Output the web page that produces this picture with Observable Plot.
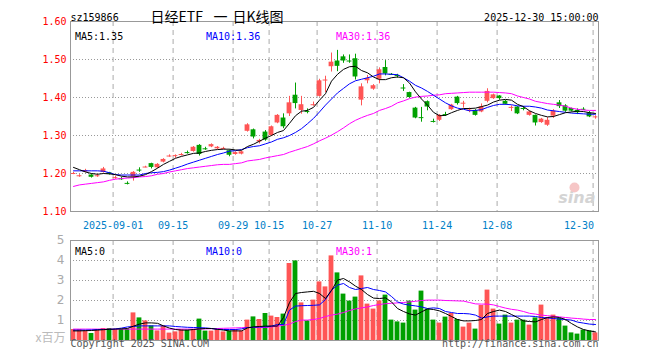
<!DOCTYPE html>
<html>
<head>
<meta charset="utf-8">
<script src="https://cdn.jsdelivr.net/npm/d3@7"></script>
<script src="https://cdn.jsdelivr.net/npm/@observablehq/plot@0.6"></script>
<style>
  html, body { margin: 0; padding: 0; background: #fff; }
  #chart { position: relative; width: 660px; height: 360px; background: #fff; }
  #topPanel, #bottomPanel { position: absolute; left: 0; }
  #topPanel { top: 0; }
  #bottomPanel { top: 235px; }
</style>
</head>
<body>
<div id="chart"><div id="topPanel"></div><div id="bottomPanel"></div></div>
<script>
const dates = [
  "2025-08-21","2025-08-22","2025-08-25","2025-08-26","2025-08-27","2025-08-28","2025-08-29",
  "2025-09-01","2025-09-02","2025-09-03","2025-09-04","2025-09-05","2025-09-08","2025-09-09","2025-09-10","2025-09-11","2025-09-12",
  "2025-09-15","2025-09-16","2025-09-17","2025-09-18","2025-09-19","2025-09-22","2025-09-23","2025-09-24","2025-09-25","2025-09-26",
  "2025-09-29","2025-09-30","2025-10-09","2025-10-10","2025-10-13","2025-10-14","2025-10-15","2025-10-16","2025-10-17",
  "2025-10-20","2025-10-21","2025-10-22","2025-10-23","2025-10-24","2025-10-27","2025-10-28","2025-10-29","2025-10-30","2025-10-31",
  "2025-11-03","2025-11-04","2025-11-05","2025-11-06","2025-11-07","2025-11-10","2025-11-11","2025-11-12","2025-11-13","2025-11-14",
  "2025-11-17","2025-11-18","2025-11-19","2025-11-20","2025-11-21","2025-11-24","2025-11-25","2025-11-26","2025-11-27","2025-11-28",
  "2025-12-01","2025-12-02","2025-12-03","2025-12-04","2025-12-05","2025-12-08","2025-12-09","2025-12-10","2025-12-11","2025-12-12",
  "2025-12-15","2025-12-16","2025-12-17","2025-12-18","2025-12-19","2025-12-22","2025-12-23","2025-12-24","2025-12-25","2025-12-26",
  "2025-12-29","2025-12-30"
];
const open = [1.199,1.193,1.204,1.196,1.193,1.203,1.202,1.188,1.187,1.175,1.191,1.210,1.216,1.226,1.215,1.230,1.245,1.246,1.249,1.256,
  1.258,1.274,1.266,1.270,1.265,1.265,1.260,1.250,1.251,1.311,1.315,1.283,1.309,1.300,1.333,1.346,1.357,1.406,1.366,1.364,
  1.380,1.403,1.444,1.481,1.496,1.507,1.497,1.502,1.393,1.444,1.422,1.448,1.479,1.462,1.459,1.426,1.413,1.372,1.348,1.389,
  1.338,1.340,1.356,1.368,1.401,1.384,1.366,1.366,1.362,1.390,1.397,1.404,1.390,1.373,1.375,1.372,1.353,1.353,1.334,1.327,
  1.351,1.386,1.378,1.371,1.366,1.370,1.359,1.348];
const close = [1.200,1.194,1.208,1.190,1.194,1.212,1.198,1.189,1.186,1.174,1.203,1.209,1.217,1.216,1.224,1.237,1.246,1.247,1.250,1.255,
  1.269,1.250,1.265,1.276,1.269,1.266,1.248,1.255,1.257,1.328,1.296,1.287,1.288,1.323,1.353,1.323,1.386,1.384,1.381,1.363,
  1.381,1.444,1.446,1.493,1.482,1.496,1.496,1.454,1.428,1.450,1.431,1.473,1.462,1.461,1.458,1.425,1.400,1.346,1.347,1.375,
  1.337,1.353,1.355,1.380,1.384,1.385,1.367,1.353,1.375,1.416,1.407,1.397,1.382,1.374,1.357,1.371,1.362,1.333,1.343,1.340,
  1.364,1.376,1.364,1.364,1.360,1.369,1.349,1.349];
const high = [1.203,1.197,1.211,1.197,1.198,1.216,1.203,1.193,1.190,1.178,1.205,1.215,1.219,1.227,1.226,1.239,1.249,1.249,1.253,1.259,
  1.271,1.276,1.269,1.278,1.271,1.269,1.262,1.257,1.258,1.331,1.317,1.290,1.313,1.325,1.355,1.357,1.403,1.438,1.403,1.370,
  1.388,1.448,1.456,1.517,1.524,1.512,1.512,1.514,1.436,1.458,1.434,1.478,1.497,1.463,1.461,1.434,1.414,1.374,1.374,1.391,
  1.343,1.355,1.361,1.382,1.403,1.390,1.372,1.368,1.383,1.423,1.409,1.405,1.392,1.378,1.376,1.376,1.364,1.354,1.345,1.347,
  1.368,1.392,1.381,1.372,1.370,1.373,1.363,1.352];
const low = [1.197,1.190,1.202,1.188,1.190,1.201,1.196,1.185,1.182,1.170,1.180,1.203,1.215,1.212,1.213,1.228,1.243,1.240,1.246,1.251,
  1.256,1.246,1.261,1.268,1.263,1.263,1.244,1.248,1.249,1.309,1.291,1.278,1.285,1.297,1.331,1.318,1.350,1.370,1.356,1.357,
  1.377,1.401,1.413,1.467,1.468,1.490,1.490,1.446,1.378,1.436,1.419,1.436,1.457,1.458,1.451,1.416,1.398,1.344,1.335,1.365,
  1.333,1.337,1.350,1.366,1.380,1.372,1.360,1.351,1.360,1.386,1.395,1.393,1.380,1.363,1.355,1.365,1.351,1.325,1.332,1.324,
  1.345,1.371,1.361,1.362,1.355,1.366,1.347,1.343];
const volume = [0.55,0.55,0.48,0.35,0.55,0.60,0.60,0.55,0.57,0.55,1.38,1.13,0.98,0.73,0.48,0.73,0.37,0.43,0.55,0.52,
  0.55,1.07,0.47,0.47,0.55,0.43,0.47,0.55,0.47,1.02,1.18,1.05,1.35,1.22,1.15,1.32,3.85,3.98,1.88,0.98,
  2.02,2.93,2.68,4.23,3.38,2.32,1.97,2.17,3.23,1.82,1.57,1.98,2.27,1.02,0.93,0.87,1.97,1.52,2.47,1.57,
  1.02,0.87,1.17,1.35,1.05,0.67,0.87,0.57,1.75,2.52,1.57,0.82,1.27,0.87,1.02,1.02,0.77,1.13,1.77,1.15,
  1.27,1.10,0.72,0.38,0.32,0.52,0.48,0.38];
const ma5 = [1.216,1.210,1.204,1.200,1.198,1.200,1.199,1.197,1.193,1.191,1.191,1.193,1.197,1.205,1.214,1.224,1.232,1.240,1.245,1.249,
  1.253,1.254,1.258,1.261,1.263,1.264,1.264,1.262,1.261,1.271,1.277,1.285,1.293,1.300,1.308,1.313,1.332,1.352,1.364,1.366,
  1.374,1.393,1.410,1.443,1.461,1.474,1.481,1.482,1.471,1.465,1.454,1.447,1.447,1.452,1.454,1.452,1.438,1.415,1.396,1.380,
  1.361,1.352,1.353,1.360,1.366,1.371,1.371,1.372,1.376,1.380,1.388,1.393,1.395,1.393,1.382,1.376,1.365,1.358,1.353,1.349,
  1.350,1.355,1.360,1.362,1.364,1.363,1.360,1.358];
const ma10 = [1.207,1.207,1.207,1.207,1.207,1.206,1.202,1.197,1.196,1.196,1.196,1.196,1.200,1.202,1.203,1.205,1.209,1.214,1.219,1.225,
  1.230,1.235,1.240,1.245,1.250,1.254,1.259,1.260,1.263,1.268,1.271,1.273,1.278,1.283,1.290,1.294,1.300,1.308,1.318,1.331,
  1.345,1.362,1.380,1.396,1.412,1.424,1.436,1.444,1.448,1.452,1.456,1.462,1.462,1.461,1.460,1.452,1.443,1.432,1.425,1.416,
  1.406,1.396,1.386,1.378,1.372,1.369,1.365,1.366,1.368,1.374,1.379,1.382,1.382,1.381,1.378,1.377,1.377,1.375,1.372,1.367,
  1.365,1.363,1.361,1.359,1.358,1.357,1.356,1.356];
const ma30 = [1.166,1.170,1.172,1.174,1.176,1.178,1.182,1.185,1.187,1.188,1.189,1.191,1.192,1.194,1.198,1.200,1.204,1.207,1.210,1.213,
  1.215,1.217,1.219,1.221,1.223,1.224,1.224,1.226,1.228,1.233,1.235,1.237,1.241,1.244,1.247,1.250,1.256,1.261,1.266,1.271,
  1.278,1.286,1.293,1.301,1.310,1.320,1.331,1.340,1.347,1.353,1.358,1.366,1.371,1.377,1.386,1.391,1.397,1.401,1.403,1.404,
  1.406,1.407,1.410,1.411,1.412,1.413,1.414,1.414,1.414,1.414,1.414,1.413,1.412,1.410,1.404,1.400,1.396,1.390,1.387,1.384,
  1.382,1.380,1.377,1.372,1.369,1.367,1.366,1.366];
const vma5 = [0.48,0.48,0.49,0.50,0.52,0.54,0.56,0.57,0.58,0.60,0.72,0.82,0.88,0.88,0.86,0.73,0.62,0.55,0.52,0.52,
  0.55,0.58,0.60,0.60,0.56,0.52,0.48,0.48,0.48,0.63,0.68,0.70,0.72,0.72,0.72,1.15,1.90,2.35,2.40,2.43,
  2.46,2.35,2.10,2.50,3.02,3.10,2.93,2.72,2.55,2.30,2.12,2.10,2.13,1.93,1.60,1.45,1.33,1.27,1.43,1.58,
  1.55,1.48,1.35,1.20,1.05,0.98,0.98,1.00,1.05,1.35,1.45,1.52,1.45,1.30,1.15,0.98,0.95,0.93,1.05,1.15,
  1.18,1.15,1.05,0.85,0.68,0.55,0.48,0.43];
const vma10 = [0.52,0.52,0.52,0.53,0.55,0.55,0.55,0.58,0.62,0.68,0.70,0.73,0.73,0.73,0.73,0.73,0.73,0.70,0.68,0.66,
  0.65,0.64,0.63,0.60,0.56,0.55,0.55,0.55,0.58,0.65,0.66,0.68,0.68,0.72,0.80,0.80,1.52,1.72,1.74,1.75,
  1.76,1.78,2.05,2.52,2.77,2.85,2.65,2.55,2.60,2.65,2.55,2.50,2.43,2.20,1.93,1.82,1.77,1.73,1.68,1.60,
  1.63,1.60,1.45,1.40,1.35,1.35,1.33,1.27,1.12,1.18,1.22,1.22,1.22,1.22,1.22,1.22,1.22,1.20,1.15,1.13,
  1.10,1.07,1.05,1.02,0.92,0.87,0.82,0.80];
const vma30 = [0.57,0.57,0.57,0.57,0.57,0.57,0.57,0.57,0.57,0.57,0.57,0.57,0.57,0.57,0.57,0.57,0.57,0.57,0.57,0.57,
  0.57,0.57,0.58,0.59,0.60,0.61,0.62,0.63,0.64,0.65,0.65,0.65,0.65,0.68,0.72,0.76,0.82,0.95,1.02,1.02,
  1.05,1.10,1.20,1.27,1.32,1.40,1.50,1.58,1.63,1.68,1.75,1.80,1.84,1.86,1.88,1.90,1.93,1.96,2.00,2.02,
  2.02,2.02,2.00,1.99,1.98,1.97,1.90,1.83,1.82,1.82,1.78,1.70,1.62,1.56,1.52,1.45,1.36,1.32,1.27,1.24,
  1.21,1.18,1.15,1.12,1.10,1.07,1.05,1.05];
const tickIdx = [7,17,27,33,41,51,61,71,87];
const tickLabels = ["2025-09-01","09-15","09-29","10-15","10-27","11-10","11-24","12-08","12-30"];
const priceTicks = [1.10,1.20,1.30,1.40,1.50,1.60];
const priceGrid = [1.20,1.30,1.40,1.50];
const volTicks = [1,2,3,4,5];
const volGrid = [1,2,3,4];
const titleParts = ["日经ETF", "一", "日K线图"];
const codeText = "sz159866";
const timeText = "2025-12-30 15:00:00";
const priceLegend = ["MA5:1.35","MA10:1.36","MA30:1.36"];
const volLegend = ["MA5:0","MA10:0","MA30:1"];

const RED = "#ff5555", GREEN = "#00a000";
const MONO = "DejaVu Sans Mono";
const CJK = "Noto Sans CJK SC";
const rows = dates.map((d, i) => ({
  i, d, o: open[i], c: close[i], h: high[i], l: low[i], v: volume[i],
  m5: ma5[i], m10: ma10[i], m30: ma30[i], vm5: vma5[i], vm10: vma10[i], vm30: vma30[i],
  col: close[i] >= open[i] ? RED : GREEN
}));
const isCross = d => Math.abs(d.c - d.o) < 0.0025;
const xDomain = [-0.5, dates.length - 0.5];
const gridX = tickIdx.map(i => i - 0.4);
const legendDx = [4.5, 135.5, 265.5];
const legendColors = ["#000", "#0000ff", "#ff00ff"];
const titleDx = [80, 143, 162];
const baseStyle = {fontFamily: MONO, fontSize: "10px", background: "transparent", overflow: "visible"};

const topChart = Plot.plot({
  width: 660, height: 235,
  marginLeft: 70, marginRight: 62, marginTop: 21, marginBottom: 24,
  x: {domain: xDomain, axis: null},
  y: {domain: [1.10, 1.60], axis: null},
  color: {type: "identity"},
  style: baseStyle,
  marks: [
    Plot.ruleY(priceGrid, {stroke: "#999", strokeDasharray: "1,2"}),
    Plot.ruleX(gridX, {stroke: "#aaa", strokeDasharray: "5,4"}),
    Plot.text(["sina"], {frameAnchor: "bottom-right", dx: -3, dy: -9, text: d => d, fill: "#d4d4d4",
      fontFamily: "DejaVu Sans", fontWeight: "bold", fontStyle: "italic", fontSize: 16, textAnchor: "end"}),
    Plot.dot([0], {frameAnchor: "bottom-right", dx: -24, dy: -24, r: 5, fill: "#f6c6c6"}),
    Plot.ruleX(rows, {x: "i", y1: "l", y2: "h", stroke: "col"}),
    Plot.rect(rows.filter(d => !isCross(d)), {x1: d => d.i - 0.4, x2: d => d.i + 0.4, y1: "o", y2: "c", fill: "col"}),
    Plot.ruleY(rows.filter(isCross), {y: "c", x1: d => d.i - 0.4, x2: d => d.i + 0.4, stroke: "col"}),
    Plot.line(rows, {x: "i", y: "m30", stroke: "#ff00ff", strokeWidth: 1}),
    Plot.line(rows, {x: "i", y: "m10", stroke: "#0000ff", strokeWidth: 1}),
    Plot.line(rows, {x: "i", y: "m5", stroke: "#000", strokeWidth: 1}),
    Plot.frame({stroke: "#999"}),
    Plot.axisY(priceTicks, {tickSize: 0, tickPadding: 4, tickFormat: d3.format(".2f"), fill: "#ff0000",
      fontFamily: MONO, fontSize: 10}),
    Plot.text(tickIdx.slice(0, -1), {x: d => d - 0.4, frameAnchor: "bottom", dy: 17,
      text: (d, k) => tickLabels[k], fill: "#0080c8", fontFamily: MONO, fontSize: 10}),
    Plot.text(tickIdx.slice(-1), {x: d => d - 0.4, frameAnchor: "bottom", dy: 17, dx: 1, textAnchor: "end",
      text: () => tickLabels[tickLabels.length - 1], fill: "#0080c8", fontFamily: MONO, fontSize: 10}),
    Plot.text([codeText], {frameAnchor: "top-left", dy: -8, text: d => d, textAnchor: "start", fill: "#000", fontFamily: MONO, fontSize: 10}),
    ...titleParts.map((t, k) => Plot.text([t], {frameAnchor: "top-left", dx: titleDx[k], dy: -9, text: d => d,
      textAnchor: "start", fill: "#000", fontFamily: CJK, fontSize: 14})),
    Plot.text([timeText], {frameAnchor: "top-right", dy: -8, text: d => d, textAnchor: "end", fill: "#000", fontFamily: MONO, fontSize: 10}),
    ...priceLegend.map((t, k) => Plot.text([t], {frameAnchor: "top-left", dx: legendDx[k], dy: 11, text: d => d,
      textAnchor: "start", fill: legendColors[k], fontFamily: MONO, fontSize: 10}))
  ]
});
document.getElementById("topPanel").appendChild(topChart);

const bottomChart = Plot.plot({
  width: 660, height: 125,
  marginLeft: 70, marginRight: 62, marginTop: 5, marginBottom: 20,
  x: {domain: xDomain, axis: null},
  y: {domain: [0, 5], axis: null},
  color: {type: "identity"},
  style: baseStyle,
  marks: [
    Plot.ruleY(volGrid, {stroke: "#999", strokeDasharray: "1,2"}),
    Plot.ruleX(gridX, {stroke: "#aaa", strokeDasharray: "5,4"}),
    Plot.rect(rows, {x1: d => d.i - 0.4, x2: d => d.i + 0.4, y1: 0, y2: "v", fill: "col"}),
    Plot.line(rows, {x: "i", y: "vm30", stroke: "#ff00ff", strokeWidth: 1}),
    Plot.line(rows, {x: "i", y: "vm10", stroke: "#0000ff", strokeWidth: 1}),
    Plot.line(rows, {x: "i", y: "vm5", stroke: "#000", strokeWidth: 1}),
    Plot.frame({stroke: "#999"}),
    Plot.axisY(volTicks, {tickSize: 0, tickPadding: 6, tickFormat: d3.format("d"), fill: "#aaa",
      fontFamily: "DejaVu Sans", fontSize: 12}),
    Plot.text(["x百万"], {frameAnchor: "bottom-left", dx: -5, dy: 1, text: d => d, textAnchor: "end", fill: "#bbb",
      fontFamily: CJK, fontSize: 12}),
    Plot.text(["Copyright 2025 SINA.COM"], {frameAnchor: "bottom-left", dy: 6, text: d => d, textAnchor: "start",
      fill: "#555", fontFamily: MONO, fontSize: 10}),
    Plot.text(["http://finance.sina.com.cn"], {frameAnchor: "bottom-right", dy: 6, text: d => d, textAnchor: "end",
      fill: "#555", fontFamily: MONO, fontSize: 10}),
    ...volLegend.map((t, k) => Plot.text([t], {frameAnchor: "top-left", dx: legendDx[k], dy: 7, text: d => d,
      textAnchor: "start", fill: legendColors[k], fontFamily: MONO, fontSize: 10}))
  ]
});
document.getElementById("bottomPanel").appendChild(bottomChart);
</script>
</body>
</html>
